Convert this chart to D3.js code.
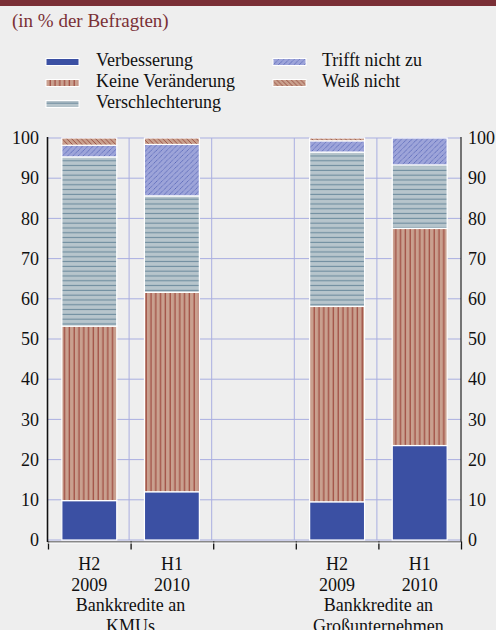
<!DOCTYPE html>
<html>
<head>
<meta charset="utf-8">
<script src="https://cdn.jsdelivr.net/npm/d3@7"></script>
<style>
  html, body { margin: 0; padding: 0; background: #eeeeee; }
  svg { display: block; }
</style>
</head>
<body>
<svg id="chart" width="496" height="630"></svg>
<script>
// Survey answers, in percent of respondents, per slot (the third slot is an empty spacer)
const categories = ["KMU H2 2009", "KMU H1 2010", "spacer", "GU H2 2009", "GU H1 2010"];
const periodLabels = [["H2", "2009"], ["H1", "2010"], null, ["H2", "2009"], ["H1", "2010"]];
const groupLabels = [["Bankkredite an", "KMUs"], ["Bankkredite an", "Großunternehmen"]];

const verbesserung      = [9.8, 12.0, null, 9.5, 23.5];
const keineVeraenderung = [43.4, 49.6, null, 48.6, 54.0];
const verschlechterung  = [42.1, 24.0, null, 38.4, 15.8];
const trifftNichtZu     = [2.9, 12.8, null, 2.8, 6.7];
const weissNicht        = [1.8, 1.6, null, 0.7, 0.0];

const seriesNames = ["Verbesserung", "Keine Veränderung", "Verschlechterung", "Trifft nicht zu", "Weiß nicht"];
const yTicks = [0, 10, 20, 30, 40, 50, 60, 70, 80, 90, 100];

const FONT = "'Liberation Serif', 'Times New Roman', serif";
const svg = d3.select("#chart");
const plotLeft = 48, plotRight = 461, plotTop = 138, plotBottom = 540;

// fills: one solid colour and four hatched patterns
const defs = svg.append("defs");
function hatch(id, w, h, bg, draw) {
  const p = defs.append("pattern").attr("id", id).attr("patternUnits", "userSpaceOnUse")
    .attr("width", w).attr("height", h);
  p.append("rect").attr("width", w).attr("height", h).attr("fill", bg);
  draw(p);
}
hatch("p-keine", 4.8, 10, "#c9a08f", p => p.append("rect").attr("x", 1.6).attr("width", 1.1).attr("height", 10).attr("fill", "#994036"));
hatch("p-versch", 10, 4.8, "#b7c5cc", p => p.append("rect").attr("y", 1.8).attr("width", 10).attr("height", 1.1).attr("fill", "#6e8c9e"));
hatch("p-trifft", 5.2, 5.2, "#9da4d9", p => p.append("path").attr("d", "M-1,6.2 L6.2,-1 M-1,1.2 L1.2,-1 M4,6.2 L6.2,4").attr("stroke", "#4153ad").attr("stroke-width", 0.8).attr("stroke-dasharray", "1,0.6"));
hatch("p-weiss", 4.8, 4.8, "#c9a18e", p => p.append("path").attr("d", "M-1,-1 L5.8,5.8 M3.8,-1 L5.8,1 M-1,3.8 L1,5.8").attr("stroke", "#8d3b31").attr("stroke-width", 0.8));
const fills = ["#3b50a3", "url(#p-keine)", "url(#p-versch)", "url(#p-trifft)", "url(#p-weiss)"];

// top band and subtitle
svg.append("rect").attr("x", 0).attr("y", 0).attr("width", 496).attr("height", 6).attr("fill", "#7a2f36");
svg.append("text").attr("x", 12).attr("y", 27).attr("font-size", 19).attr("fill", "#7a3036")
  .text("(in % der Befragten)");

// legend
const legendPos = [[46, 62], [46, 83], [46, 104], [273, 62], [273, 83]];
seriesNames.forEach((name, i) => {
  const [lx, ly] = legendPos[i];
  svg.append("rect").attr("x", lx).attr("y", ly - 3.5).attr("width", 33).attr("height", 7)
    .attr("fill", fills[i]).attr("stroke", "#ffffff").attr("stroke-width", 1);
  svg.append("text").attr("x", i < 3 ? 96 : 322).attr("y", ly + 3.5).attr("font-size", 18).attr("fill", "#111")
    .text(name);
});

// scales
const x = d3.scaleBand().domain(categories).range([plotLeft, plotRight]).paddingInner(0).paddingOuter(0);
const y = d3.scaleLinear().domain([0, 100]).range([plotBottom, plotTop]);
const barW = x.step() * 0.665;

// grid
const grid = svg.append("g").attr("stroke", "#a9aee0").attr("stroke-width", 1);
yTicks.forEach(t => grid.append("line").attr("x1", plotLeft).attr("x2", plotRight).attr("y1", y(t)).attr("y2", y(t)));
categories.slice(1).forEach(c => grid.append("line").attr("x1", x(c) - 1.5).attr("x2", x(c) - 1.5).attr("y1", plotTop).attr("y2", plotBottom));

// stacked bars
const rows = categories.map((c, i) => ({
  cat: c,
  "Verbesserung": verbesserung[i],
  "Keine Veränderung": keineVeraenderung[i],
  "Verschlechterung": verschlechterung[i],
  "Trifft nicht zu": trifftNichtZu[i],
  "Weiß nicht": weissNicht[i]
})).filter(r => r["Verbesserung"] != null);
const stacked = d3.stack().keys(seriesNames)(rows);
stacked.forEach((layer, si) => {
  svg.append("g").selectAll("rect").data(layer.filter(d => d[1] - d[0] > 0)).join("rect")
    .attr("x", d => x(d.data.cat) + (x.step() - barW) / 2)
    .attr("y", d => y(d[1]))
    .attr("width", barW)
    .attr("height", d => y(d[0]) - y(d[1]))
    .attr("fill", fills[si])
    .attr("stroke", "#ffffff").attr("stroke-width", 1.2);
});

// value axes
const axL = svg.append("g").attr("transform", `translate(${plotLeft},0)`)
  .call(d3.axisLeft(y).tickValues(yTicks).tickSize(0).tickPadding(9));
const axR = svg.append("g").attr("transform", `translate(${plotRight},0)`)
  .call(d3.axisRight(y).tickValues(yTicks).tickSize(0).tickPadding(7));
[axL, axR].forEach(a => {
  a.selectAll("text").attr("font-size", 18).attr("fill", "#111");
  a.select(".domain").remove();
});
svg.append("line").attr("x1", plotLeft - 2).attr("x2", plotLeft - 2).attr("y1", plotTop - 1).attr("y2", plotBottom + 2).attr("stroke", "#ffffff").attr("stroke-width", 1);
svg.append("line").attr("x1", plotLeft - 0.5).attr("x2", plotLeft - 0.5).attr("y1", plotTop - 1).attr("y2", plotBottom + 2).attr("stroke", "#111").attr("stroke-width", 1.6);
svg.append("line").attr("x1", plotRight).attr("x2", plotRight).attr("y1", plotTop - 1).attr("y2", plotBottom + 2).attr("stroke", "#222").attr("stroke-width", 1.2);

// category axis with boundary ticks
const xb = d3.scaleLinear().domain([0, categories.length]).range([plotLeft, plotRight]);
const axB = svg.append("g").attr("transform", `translate(0,${plotBottom + 1.5})`)
  .call(d3.axisBottom(xb).tickValues(d3.range(categories.length + 1)).tickSize(8).tickSizeOuter(0).tickFormat(""));
axB.select(".domain").attr("stroke", "#666").attr("stroke-width", 1.3);
axB.selectAll(".tick line").attr("stroke", "#111").attr("stroke-width", 1.3);
svg.append("line").attr("x1", plotLeft).attr("x2", plotRight).attr("y1", plotBottom + 3).attr("y2", plotBottom + 3).attr("stroke", "#fff").attr("stroke-width", 1);

// category labels
const lab = svg.append("g").attr("fill", "#111").attr("text-anchor", "middle");
categories.forEach((c, i) => {
  if (!periodLabels[i]) return;
  const cx = x(c) + x.step() / 2;
  periodLabels[i].forEach((t, k) => lab.append("text").attr("x", cx).attr("y", 570 + k * 20.7).attr("font-size", 18).text(t));
});
[[categories[0], categories[1]], [categories[3], categories[4]]].forEach((pair, g) => {
  const cx = x(pair[1]);
  groupLabels[g].forEach((t, k) => lab.append("text").attr("x", cx).attr("y", 611.3 + k * 20.3).attr("font-size", 18).text(t));
});

// one serif face for every label
svg.selectAll("text").style("font-family", FONT);
</script>
</body>
</html>
